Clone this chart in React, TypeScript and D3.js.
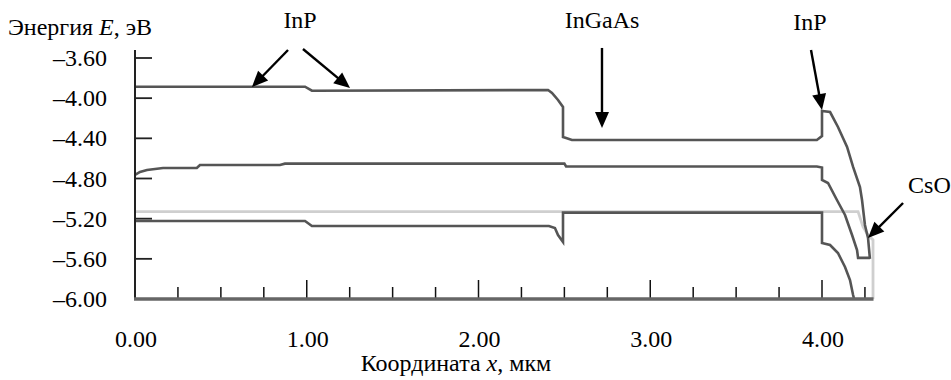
import React from "react";
import * as d3 from "d3";

// Energy band diagram of an InP / InGaAs / InP photocathode with a CsO layer.
type Pt = [number, number]; // [x (µm), E (eV)]

// Conduction band edge
const conduction: Pt[] = [
  [0, -3.886], [0.99, -3.886], [1.03, -3.926], [2.405, -3.919], [2.428, -3.948],
  [2.463, -4.018], [2.492, -4.088], [2.492, -4.387], [2.51, -4.397], [2.544, -4.417],
  [3.97, -4.417], [4.0, -4.377], [4.0, -4.128], [4.047, -4.138], [4.093, -4.287],
  [4.146, -4.486], [4.181, -4.685], [4.221, -4.885], [4.233, -5.014], [4.25, -5.263],
  [4.268, -5.392], [4.279, -5.6],
];

// Middle level
const middle: Pt[] = [
  [0, -4.765], [0.029, -4.735], [0.07, -4.715], [0.163, -4.695], [0.36, -4.695],
  [0.378, -4.665], [0.844, -4.665], [0.873, -4.652], [2.5, -4.652], [2.51, -4.68],
  [3.97, -4.68], [4.0, -4.69], [4.0, -4.815], [4.035, -4.845], [4.087, -5.014],
  [4.134, -5.163], [4.175, -5.363], [4.204, -5.512], [4.21, -5.59], [4.279, -5.59],
];

// Fermi level
const fermi: Pt[] = [
  [0, -5.13], [4.21, -5.13], [4.239, -5.283], [4.268, -5.363], [4.297, -5.412], [4.297, -6.0],
];

// Valence band edge
const valence: Pt[] = [
  [0, -5.223], [0.99, -5.223], [1.03, -5.273], [2.41, -5.273], [2.445, -5.293],
  [2.463, -5.363], [2.492, -5.432], [2.492, -5.14], [4.0, -5.14], [4.0, -5.442],
  [4.047, -5.462], [4.093, -5.542], [4.134, -5.681], [4.163, -5.811], [4.181, -5.96],
  [4.187, -6.0],
];

const yTicks = [-3.6, -4.0, -4.4, -4.8, -5.2, -5.6, -6.0];
const xTicks = [0, 1, 2, 3, 4];
const xMinorTicks = [0.25, 0.5, 0.75, 1, 1.25, 1.5, 1.75, 2, 2.25, 2.5, 2.75, 3, 3.25, 3.5, 3.75, 4, 4.25];
const xEnd = 4.3;
const yAxisTop = -3.52;

// Layer labels and their pointers (data coordinates)
const labels = [
  { text: "InP", x: 0.961, y: -3.301, anchor: "middle" },
  { text: "InGaAs", x: 2.719, y: -3.301, anchor: "middle" },
  { text: "InP", x: 3.93, y: -3.321, anchor: "middle" },
  { text: "CsO", x: 4.501, y: -4.944, anchor: "start" },
];
const arrows: { from: Pt; to: Pt }[] = [
  { from: [0.891, -3.52], to: [0.681, -3.889] },
  { from: [0.978, -3.51], to: [1.252, -3.899] },
  { from: [2.719, -3.5], to: [2.719, -4.297] },
  { from: [3.936, -3.52], to: [4.0, -4.118] },
  { from: [4.472, -5.044], to: [4.268, -5.392] },
];

const W = 951;
const H = 380;

// Serif label with a fixed face and size
function Label(props: {
  x: number;
  y: number;
  anchor?: "start" | "middle" | "end";
  children: React.ReactNode;
}) {
  return (
    <text
      x={props.x}
      y={props.y}
      textAnchor={props.anchor ?? "start"}
      fontSize={24}
      fontFamily="Liberation Serif"
      style={{ fontFamily: "Liberation Serif" }}
      fill="#000"
    >
      {props.children}
    </text>
  );
}

export default function App() {
  const x = d3.scaleLinear().domain([0, 4]).range([135, 822]);
  const y = d3.scaleLinear().domain([-3.6, -6.0]).range([58, 299]);
  const line = d3
    .line<Pt>()
    .x((d) => x(d[0]))
    .y((d) => y(d[1]));
  const fmt = (v: number) => d3.format(".2f")(v).replace("-", "–").replace("−", "–");

  const arrowHead = (a: { from: Pt; to: Pt }) => {
    const x1 = x(a.from[0]), y1 = y(a.from[1]);
    const x2 = x(a.to[0]), y2 = y(a.to[1]);
    const ang = Math.atan2(y2 - y1, x2 - x1);
    const len = 16, hw = 7;
    const bx = x2 - len * Math.cos(ang), by = y2 - len * Math.sin(ang);
    const px = -Math.sin(ang) * hw, py = Math.cos(ang) * hw;
    return {
      shaft: [x1, y1, bx + 2 * Math.cos(ang), by + 2 * Math.sin(ang)],
      head: `M${x2},${y2}L${bx + px},${by + py}L${bx - px},${by - py}Z`,
    };
  };

  return (
    <svg width={W} height={H} style={{ position: "absolute", left: 0, top: 0, background: "#fff" }}>
      {/* curves */}
      <path d={line(fermi) ?? ""} fill="none" stroke="#cfcfcf" strokeWidth={2.8} />
      <path d={line(conduction) ?? ""} fill="none" stroke="#555" strokeWidth={2.6} />
      <path d={line(middle) ?? ""} fill="none" stroke="#555" strokeWidth={2.6} />
      <path d={line(valence) ?? ""} fill="none" stroke="#555" strokeWidth={2.6} />

      {/* y axis */}
      <line x1={x(0)} x2={x(0)} y1={y(yAxisTop)} y2={y(-6.0)} stroke="#222" strokeWidth={2} />
      {yTicks.map((t) => (
        <g key={t}>
          <line x1={x(0)} x2={x(0) + 17} y1={y(t)} y2={y(t)} stroke="#222" strokeWidth={1.8} />
          <Label x={107} y={y(t) + 8} anchor="end">
            {fmt(t)}
          </Label>
        </g>
      ))}

      {/* x axis */}
      {xMinorTicks.map((t) => {
        const major = Number.isInteger(t);
        return (
          <line
            key={t}
            x1={x(t)}
            x2={x(t)}
            y1={y(-6.0)}
            y2={y(-6.0) - (major ? 19 : 12)}
            stroke="#111"
            strokeWidth={1.5}
          />
        );
      })}
      <line x1={x(0) - 1} x2={x(xEnd)} y1={y(-6.0)} y2={y(-6.0)} stroke="#666" strokeWidth={3.5} />
      {xTicks.map((t) => (
        <Label key={t} x={x(t) + 1} y={347} anchor="middle">
          {fmt(t)}
        </Label>
      ))}

      {/* axis titles */}
      <Label x={8} y={35}>
        Энергия <tspan fontStyle="italic">E</tspan>, эВ
      </Label>
      <Label x={456} y={371} anchor="middle">
        Координата <tspan fontStyle="italic">x</tspan>, мкм
      </Label>

      {/* layer labels */}
      {labels.map((l, i) => (
        <Label key={i} x={x(l.x)} y={y(l.y)} anchor={l.anchor as "middle" | "start"}>
          {l.text}
        </Label>
      ))}
      {arrows.map((a, i) => {
        const h = arrowHead(a);
        return (
          <g key={i}>
            <line x1={h.shaft[0]} y1={h.shaft[1]} x2={h.shaft[2]} y2={h.shaft[3]} stroke="#000" strokeWidth={2.4} />
            <path d={h.head} fill="#000" />
          </g>
        );
      })}
    </svg>
  );
}
